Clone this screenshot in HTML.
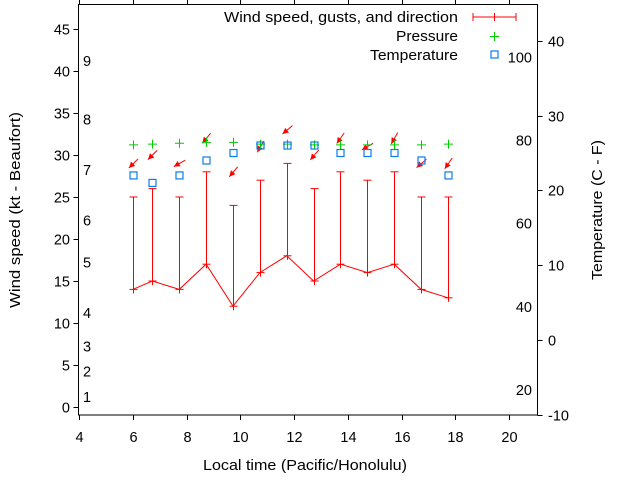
<!DOCTYPE html>
<html><head><meta charset="utf-8"><style>
html,body{margin:0;padding:0;background:#fff;}
svg{display:block;font-family:"Liberation Sans",Arial,sans-serif;font-size:14.5px;}
</style></head><body>
<svg id="chart" width="640" height="480" viewBox="0 0 640 480" xmlns="http://www.w3.org/2000/svg">
<g id="axes"></g>
<g id="marks"></g>
<text x="203" y="470" textLength="204" lengthAdjust="spacingAndGlyphs">Local time (Pacific/Honolulu)</text>
<text transform="translate(20,210) rotate(-90)" text-anchor="middle" textLength="196" lengthAdjust="spacingAndGlyphs">Wind speed (kt - Beaufort)</text>
<text transform="translate(602,210) rotate(-90)" text-anchor="middle" textLength="140" lengthAdjust="spacingAndGlyphs">Temperature (C - F)</text>
<g>
<text x="224" y="22" textLength="234" lengthAdjust="spacingAndGlyphs">Wind speed, gusts, and direction</text>
<line x1="473" y1="17" x2="516" y2="17" stroke="#f00" stroke-width="1"/>
<line x1="473" y1="13" x2="473" y2="21" stroke="#f00"/><line x1="516" y1="13" x2="516" y2="21" stroke="#f00"/><line x1="494.5" y1="13" x2="494.5" y2="21" stroke="#f00"/>
<text x="396" y="41" textLength="62" lengthAdjust="spacingAndGlyphs">Pressure</text>
<path d="M490 36.5h9M494.5 32v9" stroke="#0c0" stroke-width="1"/>
<text x="370" y="60" textLength="88" lengthAdjust="spacingAndGlyphs">Temperature</text>
<rect x="491" y="51" width="7" height="7" fill="none" stroke="#0a7cf0" stroke-width="1.2"/>
</g>
</svg>
<script>
const times=[6.0,6.73,7.73,8.73,9.73,10.73,11.73,12.73,13.73,14.73,15.73,16.73,17.73];
const wind=[14,15,14,17,12,16,18,15,17,16,17,14,13];
const gusts=[25,26,25,28,24,27,29,26,28,27,28,25,25];
const direction=[45,45,60,40,40,30,50,40,35,60,30,50,35];
const pressure=[31.2,31.3,31.4,31.5,31.5,31.3,31.3,31.2,31.2,31.2,31.2,31.2,31.3];
const temperature=[22,21,22,24,25,26,26,26,25,25,25,24,22];
const xTicks=[4,6,8,10,12,14,16,18,20];
const yTicks=[0,5,10,15,20,25,30,35,40,45];
const y2Ticks=[-10,0,10,20,30,40];
const beaufortLabels=["1","2","3","4","5","6","7","8","9"];
const beaufortKt=[1.2,4.2,7.2,11.2,17.2,22.2,28.2,34.2,41.2];
const fahrenheitTicks=[20,40,60,80,100];

const L=78.5,R=537.5,T=4.5,B=415;
const X=v=>79+(v-4)*26.875;
const Y=v=>407-v*8.4;
const Y2=c=>340-c*7.48;
const NS="http://www.w3.org/2000/svg";
function mk(parent,tag,attrs){const e=document.createElementNS(NS,tag);for(const k in attrs)e.setAttribute(k,attrs[k]);parent.appendChild(e);return e;}
const ax=document.getElementById('axes'),mg=document.getElementById('marks');
const frame=mk(ax,'rect',{x:L,y:T,width:R-L,height:B-T,fill:'none',stroke:'#000','stroke-width':1});


xTicks.forEach(v=>{const x=Math.round(X(v))+0.5;
 mk(ax,'line',{x1:x,x2:x,y1:B,y2:B+5,stroke:'#000'});
 mk(ax,'line',{x1:x,x2:x,y1:T,y2:T-5,stroke:'#000'});
 const t=mk(ax,'text',{x:x,y:442,'text-anchor':'middle'});t.textContent=v;
 
 });
yTicks.forEach(v=>{const y=Math.round(Y(v))+0.5;
 mk(ax,'line',{x1:L,x2:L-5,y1:y,y2:y,stroke:'#000'});
 const t=mk(ax,'text',{x:70,y:y+5,'text-anchor':'end'});t.textContent=v;
 
 });
y2Ticks.forEach(v=>{const y=Math.round(Y2(v))+0.5;
 mk(ax,'line',{x1:R,x2:R+5,y1:y,y2:y,stroke:'#000'});
 const t=mk(ax,'text',{x:548,y:y+5,'text-anchor':'start'});t.textContent=v;
 
 });
beaufortLabels.forEach((s,i)=>{const t=mk(ax,'text',{x:83,y:Y(beaufortKt[i])+5});t.textContent=s;
 
 });
fahrenheitTicks.forEach(f=>{const t=mk(ax,'text',{x:532,y:Y2((f-32)*5/9)+5,'text-anchor':'end'});t.textContent=f;
 
 });
const line=mk(mg,'polyline',{points:times.map((t,i)=>X(t)+','+Y(wind[i])).join(' '),fill:'none',stroke:'#f00','stroke-width':1});


times.forEach((t,i)=>{
 const x=Math.round(X(t))+0.5,yw=Y(wind[i]),yg=Y(gusts[i]);
 const g=mk(mg,'g',{stroke:'#f00','stroke-width':1});
 
 
 mk(g,'line',{x1:x,x2:x,y1:yw,y2:yg});
 mk(g,'line',{x1:x-4,x2:x+4,y1:yg,y2:yg});
 mk(g,'line',{x1:x-4,x2:x+4,y1:yw,y2:yw});
 mk(g,'line',{x1:x,x2:x,y1:yw-4,y2:yw+4});
 const cy=Y(gusts[i]+4),a=direction[i]*Math.PI/180,len=13;
 const ux=Math.sin(a),uy=-Math.cos(a);
 const tx=x+ux*len/2,ty=cy+uy*len/2,hx=x-ux*len/2,hy=cy-uy*len/2;
 const ar=mk(mg,'g',{});
 
 
 mk(ar,'line',{x1:tx,y1:ty,x2:hx,y2:hy,stroke:'#f00','stroke-width':1});
 const px=-uy,py=ux,h=6,w=3;
 mk(ar,'polygon',{points:`${hx},${hy} ${hx+ux*h+px*w},${hy+uy*h+py*w} ${hx+ux*h-px*w},${hy+uy*h-py*w}`,fill:'#f00'});
 const py2=Y(pressure[i]);
 const p=mk(mg,'path',{d:`M${x-4.5} ${py2}h9M${x} ${py2-4.5}v9`,stroke:'#0c0','stroke-width':1});
 
 
 const ty2=Y2(temperature[i]);
 const r=mk(mg,'rect',{x:x-3.5,y:ty2-3.5,width:7,height:7,fill:'none',stroke:'#0a7cf0','stroke-width':1.2});
 
 
});
</script>
</body></html>
